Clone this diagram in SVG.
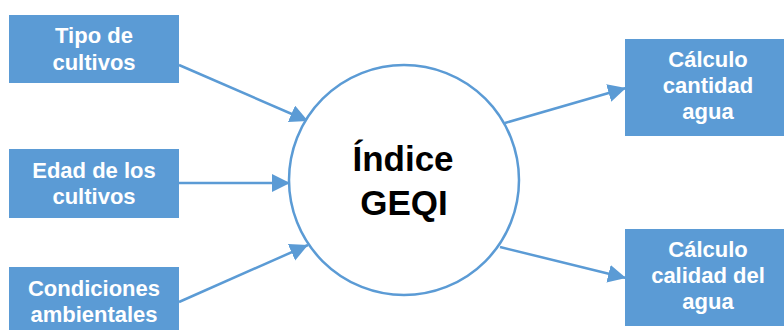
<svg xmlns="http://www.w3.org/2000/svg" width="784" height="330" viewBox="0 0 784 330">
<style>
.box{fill:#5B9BD5;}
.bt{font-family:"Liberation Sans",Arial,sans-serif;font-weight:bold;font-size:22px;fill:#FFFFFF;text-anchor:middle;}
.ct{font-family:"Liberation Sans",Arial,sans-serif;font-weight:bold;font-size:35px;fill:#000000;text-anchor:middle;}
.conn{stroke:#5B9BD5;stroke-width:2.5;fill:none;marker-end:url(#ah);}
</style>
<defs>
<marker id="ah" markerUnits="userSpaceOnUse" markerWidth="20" markerHeight="20" refX="18" refY="9" orient="auto">
<path d="M0,0 L18,9 L0,18 Z" fill="#5B9BD5"/>
</marker>
</defs>
<rect width="784" height="330" fill="#FFFFFF"/>
<g id="connectors">
<line class="conn" x1="179" y1="65" x2="308" y2="121"/>
<line class="conn" x1="179" y1="183" x2="290" y2="183"/>
<line class="conn" x1="179" y1="302" x2="308" y2="245"/>
<line class="conn" x1="505" y1="123" x2="626" y2="88"/>
<line class="conn" x1="500" y1="247" x2="626" y2="278"/>
</g>
<g id="tipo">
<rect class="box" x="9" y="15" width="170" height="68"/>
<text class="bt" x="94" y="43">Tipo de</text>
<text class="bt" x="94" y="70">cultivos</text>
</g>
<g id="edad">
<rect class="box" x="9" y="149" width="170" height="69"/>
<text class="bt" x="94" y="178">Edad de los</text>
<text class="bt" x="94" y="204">cultivos</text>
</g>
<g id="condiciones">
<rect class="box" x="9" y="267" width="170" height="70"/>
<text class="bt" x="94" y="296">Condiciones</text>
<text class="bt" x="94" y="322">ambientales</text>
</g>
<g id="indice">
<circle cx="404" cy="180" r="115" fill="#FFFFFF" stroke="#5B9BD5" stroke-width="2.5"/>
<text class="ct" x="403" y="171">Índice</text>
<text class="ct" x="404" y="215">GEQI</text>
</g>
<g id="cantidad">
<rect class="box" x="625" y="39" width="175" height="97"/>
<text class="bt" x="708" y="67">Cálculo</text>
<text class="bt" x="708" y="93">cantidad</text>
<text class="bt" x="708" y="119">agua</text>
</g>
<g id="calidad">
<rect class="box" x="625" y="229" width="175" height="97"/>
<text class="bt" x="708" y="257">Cálculo</text>
<text class="bt" x="708" y="283">calidad del</text>
<text class="bt" x="708" y="309">agua</text>
</g>
</svg>
